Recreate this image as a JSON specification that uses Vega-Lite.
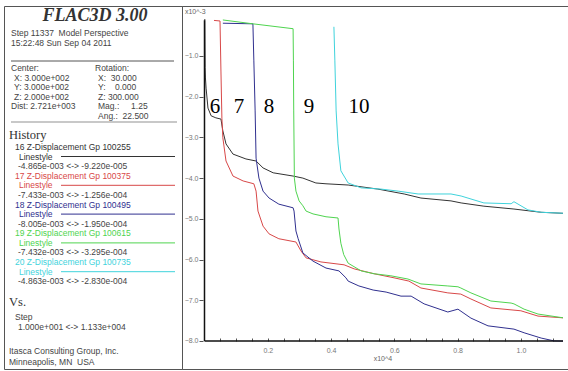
{
  "$schema": "https://vega.github.io/schema/vega-lite/v6.json",
  "padding": {"left": 3, "top": 5, "right": 1, "bottom": 3},
  "spacing": 0,
  "bounds": "flush",
  "background": "white",
  "config": {
    "view": {"stroke": "#555", "strokeWidth": 1},
    "font": "Liberation Sans",
    "axis": {"grid": false, "domain": false, "labelFont": "Liberation Sans", "labelFontSize": 7, "labelColor": "#777", "tickColor": "#555", "title": null}
  },
  "datasets": {
    "panel": [
      {"px": 7, "py": 26.5, "txt": "Step 11337\u00a0\u00a0Model Perspective", "series": "-"},
      {"px": 7, "py": 36.5, "txt": "15:22:48 Sun Sep 04 2011", "series": "-"},
      {"px": 7, "py": 62, "txt": "Center:", "series": "-"},
      {"px": 91, "py": 62, "txt": "Rotation:", "series": "-"},
      {"px": 10, "py": 71.5, "txt": "X: 3.000e+002", "series": "-"},
      {"px": 94, "py": 71.5, "txt": "X:\u00a0\u00a030.000", "series": "-"},
      {"px": 10, "py": 81, "txt": "Y: 3.000e+002", "series": "-"},
      {"px": 94, "py": 81, "txt": "Y:\u00a0\u00a0\u00a0\u00a00.000", "series": "-"},
      {"px": 10, "py": 90.5, "txt": "Z: 2.000e+002", "series": "-"},
      {"px": 94, "py": 90.5, "txt": "Z: 300.000", "series": "-"},
      {"px": 7, "py": 100, "txt": "Dist: 2.721e+003", "series": "-"},
      {"px": 94, "py": 100, "txt": "Mag.:\u00a0\u00a0\u00a0\u00a0\u00a01.25", "series": "-"},
      {"px": 94, "py": 109.5, "txt": "Ang.:\u00a0\u00a022.500", "series": "-"},
      {"px": 11, "py": 141, "txt": "16 Z-Displacement Gp 100255", "series": "16"},
      {"px": 15, "py": 150.5, "txt": "Linestyle", "series": "16"},
      {"px": 14, "py": 160, "txt": "-4.865e-003 <-> -9.220e-005", "series": "-"},
      {"px": 11, "py": 169.8, "txt": "17 Z-Displacement Gp 100375", "series": "17"},
      {"px": 15, "py": 179.3, "txt": "Linestyle", "series": "17"},
      {"px": 14, "py": 188.8, "txt": "-7.433e-003 <-> -1.256e-004", "series": "-"},
      {"px": 11, "py": 198.6, "txt": "18 Z-Displacement Gp 100495", "series": "18"},
      {"px": 15, "py": 208.1, "txt": "Linestyle", "series": "18"},
      {"px": 14, "py": 217.6, "txt": "-8.005e-003 <-> -1.950e-004", "series": "-"},
      {"px": 11, "py": 227.4, "txt": "19 Z-Displacement Gp 100615", "series": "19"},
      {"px": 15, "py": 236.9, "txt": "Linestyle", "series": "19"},
      {"px": 14, "py": 246.4, "txt": "-7.432e-003 <-> -3.295e-004", "series": "-"},
      {"px": 11, "py": 256.2, "txt": "20 Z-Displacement Gp 100735", "series": "20"},
      {"px": 15, "py": 265.7, "txt": "Linestyle", "series": "20"},
      {"px": 14, "py": 275.2, "txt": "-4.863e-003 <-> -2.830e-004", "series": "-"},
      {"px": 11, "py": 311, "txt": "Step", "series": "-"},
      {"px": 14, "py": 321, "txt": "1.000e+001 <-> 1.133e+004", "series": "-"},
      {"px": 5, "py": 345, "txt": "Itasca Consulting Group, Inc.", "series": "-"},
      {"px": 5, "py": 356, "txt": "Minneapolis, MN\u00a0\u00a0USA", "series": "-"}
    ],
    "heads": [
      {"px": 5, "py": 129, "txt": "History"},
      {"px": 5, "py": 296, "txt": "Vs."}
    ],
    "legendLines": [
      {"series": "16", "py": 150.5},
      {"series": "17", "py": 179.3},
      {"series": "18", "py": 208.1},
      {"series": "19", "py": 236.9},
      {"series": "20", "py": 265.7}
    ],
    "labels": [
      {"label": "6", "step": 0.033, "disp": -2.25},
      {"label": "7", "step": 0.109, "disp": -2.25},
      {"label": "8", "step": 0.204, "disp": -2.25},
      {"label": "9", "step": 0.330, "disp": -2.25},
      {"label": "10", "step": 0.488, "disp": -2.25}
    ],
    "curves": [
      {"series": "16", "step": 0.001, "disp": -0.092},
      {"series": "16", "step": 0.002, "disp": -1.29},
      {"series": "16", "step": 0.003, "disp": -1.54},
      {"series": "16", "step": 0.005, "disp": -1.79},
      {"series": "16", "step": 0.011, "disp": -2.28},
      {"series": "16", "step": 0.021, "disp": -2.47},
      {"series": "16", "step": 0.036, "disp": -2.52},
      {"series": "16", "step": 0.052, "disp": -2.55},
      {"series": "16", "step": 0.058, "disp": -2.84},
      {"series": "16", "step": 0.068, "disp": -3.16},
      {"series": "16", "step": 0.090, "disp": -3.41},
      {"series": "16", "step": 0.131, "disp": -3.53},
      {"series": "16", "step": 0.163, "disp": -3.58},
      {"series": "16", "step": 0.185, "disp": -3.75},
      {"series": "16", "step": 0.217, "disp": -3.87},
      {"series": "16", "step": 0.280, "disp": -3.95},
      {"series": "16", "step": 0.311, "disp": -4.00},
      {"series": "16", "step": 0.352, "disp": -4.12},
      {"series": "16", "step": 0.384, "disp": -4.14},
      {"series": "16", "step": 0.454, "disp": -4.17},
      {"series": "16", "step": 0.548, "disp": -4.27},
      {"series": "16", "step": 0.631, "disp": -4.39},
      {"series": "16", "step": 0.684, "disp": -4.49},
      {"series": "16", "step": 0.779, "disp": -4.56},
      {"series": "16", "step": 0.811, "disp": -4.61},
      {"series": "16", "step": 0.883, "disp": -4.69},
      {"series": "16", "step": 0.978, "disp": -4.76},
      {"series": "16", "step": 1.064, "disp": -4.84},
      {"series": "16", "step": 1.133, "disp": -4.865},
      {"series": "17", "step": 0.030, "disp": -0.126},
      {"series": "17", "step": 0.049, "disp": -0.14},
      {"series": "17", "step": 0.052, "disp": -1.37},
      {"series": "17", "step": 0.055, "disp": -2.53},
      {"series": "17", "step": 0.058, "disp": -3.01},
      {"series": "17", "step": 0.068, "disp": -3.58},
      {"series": "17", "step": 0.090, "disp": -3.95},
      {"series": "17", "step": 0.122, "disp": -4.07},
      {"series": "17", "step": 0.156, "disp": -4.14},
      {"series": "17", "step": 0.163, "disp": -4.32},
      {"series": "17", "step": 0.169, "disp": -4.81},
      {"series": "17", "step": 0.185, "disp": -5.18},
      {"series": "17", "step": 0.204, "disp": -5.37},
      {"series": "17", "step": 0.235, "disp": -5.49},
      {"series": "17", "step": 0.289, "disp": -5.57},
      {"series": "17", "step": 0.305, "disp": -5.79},
      {"series": "17", "step": 0.321, "disp": -5.96},
      {"series": "17", "step": 0.368, "disp": -6.06},
      {"series": "17", "step": 0.441, "disp": -6.13},
      {"series": "17", "step": 0.473, "disp": -6.23},
      {"series": "17", "step": 0.536, "disp": -6.35},
      {"series": "17", "step": 0.599, "disp": -6.45},
      {"series": "17", "step": 0.646, "disp": -6.53},
      {"series": "17", "step": 0.684, "disp": -6.70},
      {"series": "17", "step": 0.769, "disp": -6.82},
      {"series": "17", "step": 0.810, "disp": -6.85},
      {"series": "17", "step": 0.842, "disp": -6.97},
      {"series": "17", "step": 0.905, "disp": -7.19},
      {"series": "17", "step": 1.000, "disp": -7.26},
      {"series": "17", "step": 1.054, "disp": -7.39},
      {"series": "17", "step": 1.133, "disp": -7.433},
      {"series": "18", "step": 0.058, "disp": -0.195},
      {"series": "18", "step": 0.153, "disp": -0.21},
      {"series": "18", "step": 0.156, "disp": -1.12},
      {"series": "18", "step": 0.160, "disp": -2.35},
      {"series": "18", "step": 0.163, "disp": -3.51},
      {"series": "18", "step": 0.172, "disp": -4.00},
      {"series": "18", "step": 0.185, "disp": -4.32},
      {"series": "18", "step": 0.204, "disp": -4.49},
      {"series": "18", "step": 0.235, "disp": -4.64},
      {"series": "18", "step": 0.280, "disp": -4.73},
      {"series": "18", "step": 0.283, "disp": -4.81},
      {"series": "18", "step": 0.289, "disp": -5.30},
      {"series": "18", "step": 0.296, "disp": -5.49},
      {"series": "18", "step": 0.311, "disp": -5.84},
      {"series": "18", "step": 0.343, "disp": -6.04},
      {"series": "18", "step": 0.384, "disp": -6.21},
      {"series": "18", "step": 0.425, "disp": -6.28},
      {"series": "18", "step": 0.447, "disp": -6.45},
      {"series": "18", "step": 0.454, "disp": -6.53},
      {"series": "18", "step": 0.488, "disp": -6.65},
      {"series": "18", "step": 0.533, "disp": -6.75},
      {"series": "18", "step": 0.574, "disp": -6.80},
      {"series": "18", "step": 0.621, "disp": -6.90},
      {"series": "18", "step": 0.653, "disp": -6.90},
      {"series": "18", "step": 0.694, "disp": -7.09},
      {"series": "18", "step": 0.769, "disp": -7.29},
      {"series": "18", "step": 0.801, "disp": -7.22},
      {"series": "18", "step": 0.842, "disp": -7.44},
      {"series": "18", "step": 0.896, "disp": -7.63},
      {"series": "18", "step": 0.978, "disp": -7.71},
      {"series": "18", "step": 1.010, "disp": -7.80},
      {"series": "18", "step": 1.064, "disp": -7.93},
      {"series": "18", "step": 1.105, "disp": -8.00},
      {"series": "18", "step": 1.133, "disp": -8.005},
      {"series": "19", "step": 0.058, "disp": -0.115},
      {"series": "19", "step": 0.153, "disp": -0.21},
      {"series": "19", "step": 0.280, "disp": -0.33},
      {"series": "19", "step": 0.281, "disp": -1.12},
      {"series": "19", "step": 0.282, "disp": -2.35},
      {"series": "19", "step": 0.284, "disp": -4.00},
      {"series": "19", "step": 0.289, "disp": -4.32},
      {"series": "19", "step": 0.299, "disp": -4.56},
      {"series": "19", "step": 0.311, "disp": -4.68},
      {"series": "19", "step": 0.321, "disp": -4.81},
      {"series": "19", "step": 0.343, "disp": -4.88},
      {"series": "19", "step": 0.384, "disp": -4.95},
      {"series": "19", "step": 0.422, "disp": -4.98},
      {"series": "19", "step": 0.425, "disp": -5.25},
      {"series": "19", "step": 0.431, "disp": -5.60},
      {"series": "19", "step": 0.440, "disp": -5.88},
      {"series": "19", "step": 0.454, "disp": -6.09},
      {"series": "19", "step": 0.495, "disp": -6.28},
      {"series": "19", "step": 0.536, "disp": -6.35},
      {"series": "19", "step": 0.589, "disp": -6.40},
      {"series": "19", "step": 0.643, "disp": -6.48},
      {"series": "19", "step": 0.684, "disp": -6.60},
      {"series": "19", "step": 0.769, "disp": -6.65},
      {"series": "19", "step": 0.801, "disp": -6.67},
      {"series": "19", "step": 0.810, "disp": -6.70},
      {"series": "19", "step": 0.842, "disp": -6.82},
      {"series": "19", "step": 0.905, "disp": -7.02},
      {"series": "19", "step": 0.969, "disp": -7.07},
      {"series": "19", "step": 0.978, "disp": -7.09},
      {"series": "19", "step": 1.010, "disp": -7.22},
      {"series": "19", "step": 1.054, "disp": -7.34},
      {"series": "19", "step": 1.133, "disp": -7.432},
      {"series": "20", "step": 0.409, "disp": -0.283},
      {"series": "20", "step": 0.412, "disp": -1.12},
      {"series": "20", "step": 0.416, "disp": -2.35},
      {"series": "20", "step": 0.422, "disp": -3.16},
      {"series": "20", "step": 0.431, "disp": -3.82},
      {"series": "20", "step": 0.454, "disp": -4.12},
      {"series": "20", "step": 0.495, "disp": -4.24},
      {"series": "20", "step": 0.558, "disp": -4.27},
      {"series": "20", "step": 0.612, "disp": -4.32},
      {"series": "20", "step": 0.675, "disp": -4.39},
      {"series": "20", "step": 0.779, "disp": -4.39},
      {"series": "20", "step": 0.811, "disp": -4.44},
      {"series": "20", "step": 0.883, "disp": -4.61},
      {"series": "20", "step": 0.969, "disp": -4.63},
      {"series": "20", "step": 0.978, "disp": -4.58},
      {"series": "20", "step": 1.022, "disp": -4.78},
      {"series": "20", "step": 1.064, "disp": -4.84},
      {"series": "20", "step": 1.133, "disp": -4.863}
    ]
  },
  "hconcat": [
    {
      "width": 178,
      "height": 363,
      "layer": [
        {
          "data": {"values": [{"px": 91, "py": 10, "txt": "FLAC3D 3.00"}]},
          "mark": {"type": "text", "font": "Liberation Serif", "fontSize": 18, "fontWeight": "bold", "fontStyle": "italic", "color": "#333", "align": "center", "baseline": "middle"},
          "encoding": {
            "x": {"field": "px", "type": "quantitative", "scale": {"domain": [0, 178], "nice": false, "zero": false}, "axis": null},
            "y": {"field": "py", "type": "quantitative", "scale": {"domain": [0, 363], "nice": false, "zero": false, "reverse": true}, "axis": null},
            "text": {"field": "txt"}
          }
        },
        {
          "data": {"name": "panel"},
          "mark": {"type": "text", "fontSize": 8.5, "align": "left", "baseline": "middle"},
          "encoding": {
            "x": {"field": "px", "type": "quantitative"},
            "y": {"field": "py", "type": "quantitative"},
            "text": {"field": "txt"},
            "color": {"field": "series", "type": "nominal", "legend": null, "scale": {"domain": ["16", "17", "18", "19", "20", "-"], "range": ["#333333", "#d84848", "#30308f", "#4fd44f", "#3fd3dc", "#444444"]}}
          }
        },
        {
          "data": {"name": "heads"},
          "mark": {"type": "text", "font": "Liberation Serif", "fontSize": 12.5, "align": "left", "baseline": "middle", "color": "#333"},
          "encoding": {
            "x": {"field": "px", "type": "quantitative"},
            "y": {"field": "py", "type": "quantitative"},
            "text": {"field": "txt"}
          }
        },
        {
          "data": {"values": [{"a": 7, "b": 170, "py": 55}]},
          "mark": {"type": "rule", "color": "#555", "strokeWidth": 1},
          "encoding": {
            "x": {"field": "a", "type": "quantitative"},
            "x2": {"field": "b"},
            "y": {"field": "py", "type": "quantitative"}
          }
        },
        {
          "data": {"values": [{"a": 7, "b": 173, "py": 116}]},
          "mark": {"type": "rule", "color": "#c8c8c8", "strokeWidth": 2},
          "encoding": {
            "x": {"field": "a", "type": "quantitative"},
            "x2": {"field": "b"},
            "y": {"field": "py", "type": "quantitative"}
          }
        },
        {
          "data": {"name": "legendLines"},
          "mark": {"type": "rule", "strokeWidth": 1},
          "encoding": {
            "x": {"datum": 57, "type": "quantitative"},
            "x2": {"datum": 171},
            "y": {"field": "py", "type": "quantitative"},
            "color": {"field": "series", "type": "nominal", "legend": null, "scale": {"domain": ["16", "17", "18", "19", "20", "-"], "range": ["#333333", "#d84848", "#30308f", "#4fd44f", "#3fd3dc", "#444444"]}}
          }
        }
      ]
    },
    {
      "width": 386,
      "height": 363,
      "resolve": {"axis": {"x": "independent"}},
      "layer": [
        {
          "data": {"name": "curves"},
          "mark": {"type": "line", "strokeWidth": 1, "interpolate": "linear"},
          "encoding": {
            "x": {"field": "step", "type": "quantitative", "scale": {"domain": [-0.0711, 1.1488], "nice": false, "zero": false},
              "axis": {"orient": "bottom", "values": [0.2, 0.4, 0.6, 0.8, 1.0], "format": ".1f", "offset": -28, "tickSize": -3, "labelPadding": 8, "labelOverlap": false, "labelFlush": false}},
            "y": {"field": "disp", "type": "quantitative", "scale": {"domain": [-8.69, 0.228], "nice": false, "zero": false},
              "axis": {"values": [-1, -2, -3, -4, -5, -6, -7, -8], "format": ".1f", "offset": -21, "tickSize": 4, "labelPadding": 1, "labelOverlap": false}},
            "color": {"field": "series", "type": "nominal", "legend": null, "scale": {"domain": ["16", "17", "18", "19", "20"], "range": ["#3a3a3a", "#d85050", "#3a3a9a", "#55d455", "#55d6dc"]}}
          }
        },
        {
          "data": {"name": "curves"},
          "mark": {"type": "point", "opacity": 0},
          "encoding": {
            "x": {"field": "step", "type": "quantitative",
              "axis": {"orient": "bottom", "values": [0.05, 0.1, 0.15, 0.25, 0.3, 0.35, 0.45, 0.5, 0.55, 0.65, 0.7, 0.75, 0.85, 0.9, 0.95, 1.05, 1.1], "offset": -28, "tickSize": -3, "labels": false}},
            "y": {"field": "disp", "type": "quantitative"}
          }
        },
        {
          "data": {"values": [{}]},
          "mark": {"type": "rule", "color": "#111", "strokeWidth": 1.5},
          "encoding": {
            "x": {"datum": 0, "type": "quantitative", "axis": null},
            "y": {"datum": -0.12, "type": "quantitative"},
            "y2": {"datum": -8}
          }
        },
        {
          "data": {"values": [{}]},
          "mark": {"type": "rule", "color": "#111", "strokeWidth": 1.5},
          "encoding": {
            "y": {"datum": -8, "type": "quantitative"},
            "x": {"datum": 0, "type": "quantitative", "axis": null},
            "x2": {"datum": 1.133}
          }
        },
        {
          "data": {"name": "labels"},
          "mark": {"type": "text", "font": "Liberation Serif", "fontSize": 21, "color": "#000", "align": "center", "baseline": "middle"},
          "encoding": {
            "x": {"field": "step", "type": "quantitative", "axis": null},
            "y": {"field": "disp", "type": "quantitative"},
            "text": {"field": "label"}
          }
        },
        {
          "data": {"values": [{}]},
          "mark": {"type": "text", "fontSize": 7, "color": "#666", "align": "left", "baseline": "middle"},
          "encoding": {
            "x": {"datum": -0.062, "type": "quantitative", "axis": null},
            "y": {"datum": 0.08, "type": "quantitative"},
            "text": {"value": "x10^-3"}
          }
        },
        {
          "data": {"values": [{}]},
          "mark": {"type": "text", "fontSize": 7, "color": "#666", "align": "center", "baseline": "middle"},
          "encoding": {
            "x": {"datum": 0.564, "type": "quantitative", "axis": null},
            "y": {"datum": -8.44, "type": "quantitative"},
            "text": {"value": "x10^4"}
          }
        }
      ]
    }
  ]
}
